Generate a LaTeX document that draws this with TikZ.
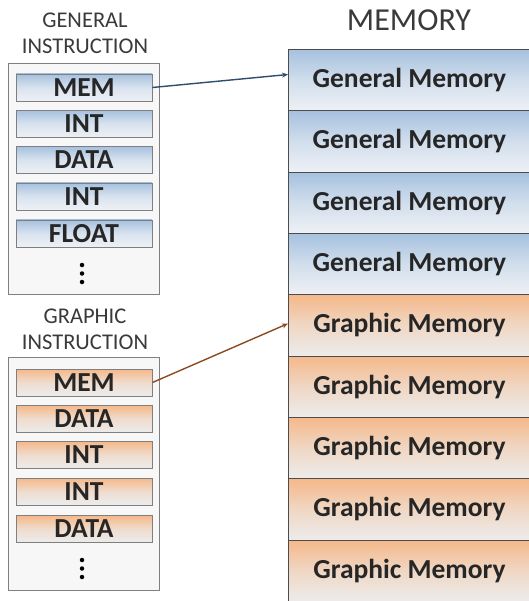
\documentclass[tikz,border=0pt]{standalone}
\usepackage{fontspec}
\setmainfont{Carlito}
\usetikzlibrary{calc,arrows.meta}
\definecolor{bluetop}{HTML}{A6C1DF}
\definecolor{bluebot}{HTML}{EEF1F5}
\definecolor{orgtop}{HTML}{F5B889}
\definecolor{orgbot}{HTML}{ECECEC}
\definecolor{txt}{HTML}{262626}
\definecolor{ttl}{HTML}{3A3A3A}
\definecolor{bord}{HTML}{7F7F7F}
\definecolor{arrblue}{HTML}{2E4C6C}
\definecolor{arrbrown}{HTML}{8A4A22}
\tikzset{
  title/.style={text=ttl,font=\fontsize{22.5}{23}\selectfont,inner sep=0pt},
  outerbox/.style={draw=bord,fill=black!3,line width=0.9pt},
  instr/.style={draw=bord,line width=0.9pt,minimum width=136pt,minimum height=27pt,
    inner sep=0pt,text=txt,font=\bfseries\fontsize{27.5}{28}\selectfont},
  ginstr/.style={instr,top color=bluetop,bottom color=bluebot,middle color=bluebot!70!bluetop},
  pinstr/.style={instr,top color=orgtop,bottom color=orgbot,middle color=orgbot!70!orgtop},
  mem/.style={draw=black!70,line width=0.9pt,minimum width=242pt,minimum height=61.33pt,
    inner sep=0pt,anchor=north west,text=txt,font=\bfseries\fontsize{27.5}{28}\selectfont},
  gmem/.style={mem,top color=bluetop,bottom color=bluebot,middle color=bluebot!60!bluetop},
  pmem/.style={mem,top color=orgtop,bottom color=orgbot,middle color=orgbot!60!orgtop},
  dotc/.style={fill=black,circle,inner sep=0pt,minimum size=4.5pt},
  link/.style={line width=1.4pt,-{Stealth[length=6pt,width=5pt]}}
}
\begin{document}
\begin{tikzpicture}[x=1pt,y=-1pt]
\useasboundingbox (0,0) rectangle (528,601);
% titles
\node[title] (gt1) at (85,20) {GENERAL};
\node[title] (gt2) at (85,46) {INSTRUCTION};
\node[title] (pt1) at (85,316) {GRAPHIC};
\node[title] (pt2) at (85,342) {INSTRUCTION};
\node[title,font=\fontsize{32}{33}\selectfont] (mt) at (409,20) {MEMORY};
% outer boxes
\draw[outerbox] (8,63) rectangle (159,294);
\draw[outerbox] (8,357) rectangle (159,590);
% general instructions
\node[ginstr] (g1) at (84,87.5) {MEM};
\node[ginstr] (g2) at (84,124) {INT};
\node[ginstr] (g3) at (84,160) {DATA};
\node[ginstr] (g4) at (84,196.5) {INT};
\node[ginstr] (g5) at (84,233.5) {FLOAT};
\node[dotc] (gd1) at (82,265) {};
\node[dotc] (gd2) at (82,273.5) {};
\node[dotc] (gd3) at (82,282) {};
% graphic instructions
\node[pinstr] (p1) at (84,382.5) {MEM};
\node[pinstr] (p2) at (84,419) {DATA};
\node[pinstr] (p3) at (84,455) {INT};
\node[pinstr] (p4) at (84,491.5) {INT};
\node[pinstr] (p5) at (84,529) {DATA};
\node[dotc] (pd1) at (82,560) {};
\node[dotc] (pd2) at (82,568.5) {};
\node[dotc] (pd3) at (82,577) {};
% memory
\node[gmem] (m1) at (288,49) {General Memory};
\node[gmem] (m2) at (288,110.33) {General Memory};
\node[gmem] (m3) at (288,171.67) {General Memory};
\node[gmem] (m4) at (288,233) {General Memory};
\node[pmem] (m5) at (288,294.33) {Graphic Memory};
\node[pmem] (m6) at (288,355.67) {Graphic Memory};
\node[pmem] (m7) at (288,417) {Graphic Memory};
\node[pmem] (m8) at (288,478.33) {Graphic Memory};
\node[pmem] (m9) at (288,539.67) {Graphic Memory};
% links
\draw[link,arrblue] (g1.east) -- ($(m1.north west)!0.41!(m1.south west)$);
\draw[link,arrbrown] (p1.east) -- ($(m5.north west)!0.47!(m5.south west)$);
\end{tikzpicture}
\end{document}
